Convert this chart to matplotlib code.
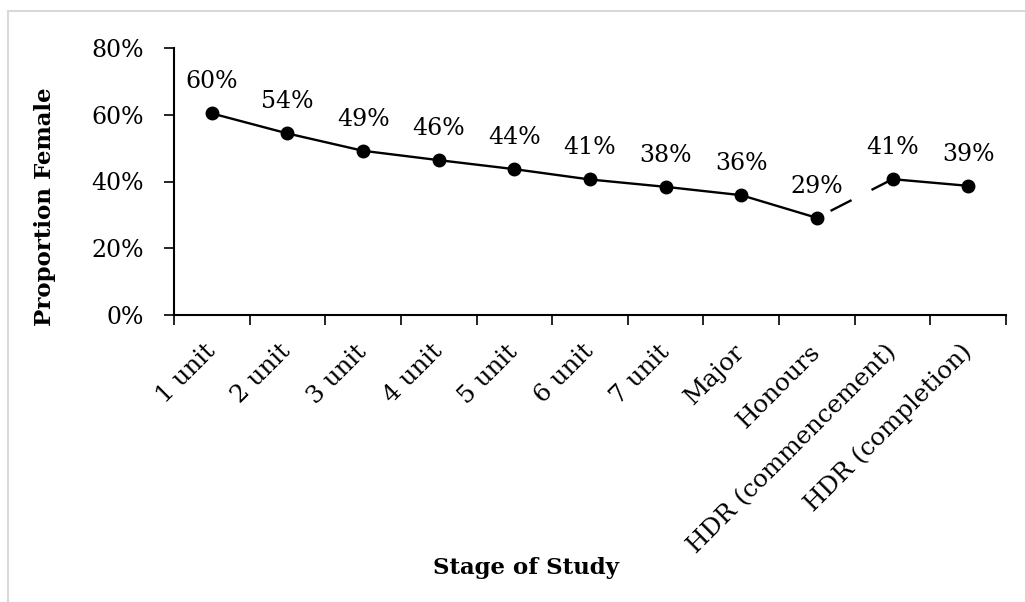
import matplotlib
matplotlib.use('Agg')
import matplotlib.pyplot as plt
import matplotlib.transforms as mtransforms
from matplotlib.patches import Rectangle
from matplotlib.ticker import FixedLocator, PercentFormatter
import numpy as np

plt.rcParams['font.family'] = ['DejaVu Serif']

stages = ['1 unit', '2 unit', '3 unit', '4 unit', '5 unit', '6 unit', '7 unit',
          'Major', 'Honours', 'HDR (commencement)', 'HDR (completion)']
female = [60.4, 54.4, 49.2, 46.4, 43.7, 40.6, 38.4, 35.9, 29.1, 40.7, 38.7]
labels = ['60%', '54%', '49%', '46%', '44%', '41%', '38%', '36%', '29%', '41%', '39%']

x = np.arange(len(stages))
y = np.array(female) / 100

fig = plt.figure(figsize=(10.25, 6.02), dpi=100)
ax = fig.add_axes([174 / 1025, 1 - 315 / 602, (1006 - 174) / 1025, (315 - 48) / 602])

# solid up to Honours, dashed gap to HDR, solid again
ax.plot(x[:9], y[:9], color='black', lw=1.7, marker='o', ms=9)
ax.plot([x[9], x[8]], [y[9], y[8]], color='black', lw=1.7, linestyle=(0, (10, 9.5)),
        dash_capstyle='butt')
ax.plot(x[9:], y[9:], color='black', lw=1.7, marker='o', ms=9)

for xi, yi, lab in zip(x, y, labels):
    ax.annotate(lab, (xi, yi), xytext=(0, 18), textcoords='offset points',
                ha='center', va='baseline', fontsize=17)

ax.set_xlim(-0.5, len(stages) - 0.5)
ax.set_ylim(0, 0.8)
ax.yaxis.set_major_locator(FixedLocator([0, 0.2, 0.4, 0.6, 0.8]))
ax.yaxis.set_major_formatter(PercentFormatter(1.0, decimals=0))

# tick marks between categories, labels at centres
ax.set_xticks(np.arange(len(stages) + 1) - 0.5)
ax.set_xticklabels([])
ax.set_xticks(x, minor=True)
ax.set_xticklabels(stages, minor=True, rotation=45, ha='right',
                   rotation_mode='anchor', fontsize=17.7)
ax.tick_params(axis='x', which='minor', length=0, pad=18)
ax.tick_params(axis='x', which='major', length=7, width=1.2, direction='out')
ax.tick_params(axis='y', length=7, width=1.2, direction='out', pad=15, labelsize=17)

# nudge rotated labels a little left
shift = mtransforms.ScaledTranslation(-0.08, 0, fig.dpi_scale_trans)
for lab in ax.get_xticklabels(minor=True):
    lab.set_transform(lab.get_transform() + shift)

for s in ['top', 'right']:
    ax.spines[s].set_visible(False)
ax.spines['left'].set_linewidth(1.5)
ax.spines['bottom'].set_linewidth(1.5)

fig.text(45 / 1025, 1 - 207 / 602, 'Proportion Female', fontsize=16.5, fontweight='bold',
         rotation=90, ha='center', va='center')
fig.text(526 / 1025, 1 - 568 / 602, 'Stage of Study', fontsize=16.5, fontweight='bold',
         ha='center', va='center')

fig.patches.append(Rectangle((8 / 1025, -0.1), 1.2, (602 - 11) / 602 + 0.1,
                             transform=fig.transFigure, fill=False,
                             edgecolor='#d9d9d9', lw=1.5))

fig.savefig('out.png', dpi=100)
